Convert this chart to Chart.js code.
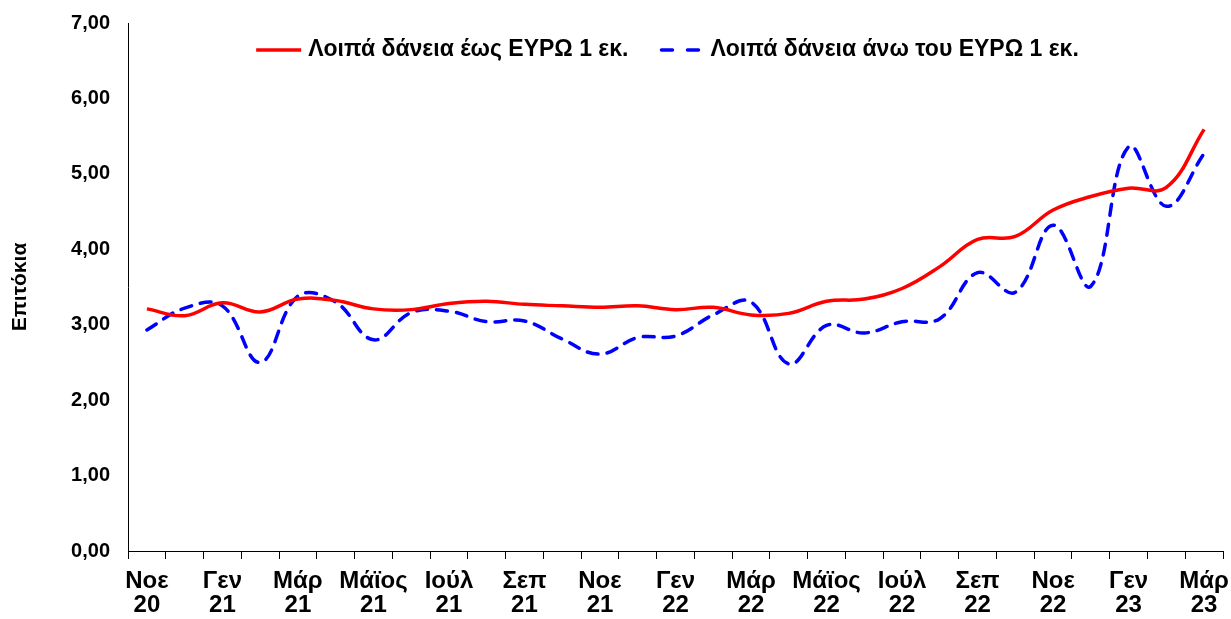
<!DOCTYPE html>
<html>
<head>
<meta charset="utf-8">
<script src="https://cdn.jsdelivr.net/npm/chart.js@4/dist/chart.umd.min.js"></script>
<style>
html,body{margin:0;padding:0;background:#fff;}
#wrap{position:relative;width:1231px;height:619px;}
</style>
</head>
<body>
<div id="wrap"><canvas id="c"></canvas></div>
<script>
const months = ['Νοε 20','Δεκ 20','Γεν 21','Φεβ 21','Μάρ 21','Απρ 21','Μάϊος 21','Ιούν 21','Ιούλ 21','Αύγ 21',
  'Σεπ 21','Οκτ 21','Νοε 21','Δεκ 21','Γεν 22','Φεβ 22','Μάρ 22','Απρ 22','Μάϊος 22','Ιούν 22',
  'Ιούλ 22','Αύγ 22','Σεπ 22','Οκτ 22','Νοε 22','Δεκ 22','Γεν 23','Φεβ 23','Μάρ 23'];
const upTo1m = [3.21,3.12,3.29,3.17,3.34,3.32,3.21,3.20,3.28,3.31,
  3.27,3.25,3.23,3.25,3.20,3.23,3.13,3.15,3.31,3.34,
  3.48,3.77,4.13,4.17,4.52,4.70,4.81,4.82,5.59];
const over1m = [2.93,3.22,3.25,2.50,3.38,3.30,2.80,3.16,3.18,3.04,
  3.05,2.81,2.61,2.83,2.85,3.13,3.30,2.48,2.99,2.89,
  3.04,3.08,3.69,3.43,4.32,3.51,5.36,4.57,5.27];
const seriesNames = ['Λοιπά δάνεια έως ΕΥΡΩ 1 εκ.','Λοιπά δάνεια άνω του ΕΥΡΩ 1 εκ.'];
const yTitle = 'Επιτόκια';

const FONT = '"Liberation Sans", Arial, sans-serif';

const topLegend = {
  id: 'topLegend',
  afterDraw(chart) {
    const ctx = chart.ctx;
    const ca = chart.chartArea;
    const sample = 45, gapText = 7, gapItems = 30;
    ctx.save();
    ctx.font = 'bold 23px ' + FONT;
    const items = chart.data.datasets.map(ds => ({ds, w: ctx.measureText(ds.label).width}));
    const total = items.reduce((s, it) => s + sample + gapText + it.w, 0) + gapItems * (items.length - 1);
    let x = (ca.left + ca.right) / 2 - 8 - total / 2;
    const y = ca.top + 27;
    items.forEach(it => {
      ctx.beginPath();
      ctx.strokeStyle = it.ds.borderColor;
      ctx.lineWidth = 3.5;
      ctx.lineCap = it.ds.borderDash ? 'round' : 'butt';
      ctx.setLineDash(it.ds.borderDash ? [11, 15] : []);
      ctx.moveTo(x + (it.ds.borderDash ? 3 : 0), y);
      ctx.lineTo(x + sample, y);
      ctx.stroke();
      ctx.setLineDash([]);
      ctx.fillStyle = '#000';
      ctx.textBaseline = 'middle';
      ctx.textAlign = 'left';
      ctx.fillText(it.ds.label, x + sample + gapText, y);
      x += sample + gapText + it.w + gapItems;
    });
    ctx.restore();
  }
};

new Chart(document.getElementById('c'), {
  type: 'line',
  data: {
    labels: months,
    datasets: [
      {label: seriesNames[0], data: upTo1m, borderColor: '#ff0000', backgroundColor: '#ff0000',
       borderWidth: 3.5, pointRadius: 0, tension: 0.4, fill: false},
      {label: seriesNames[1], data: over1m, borderColor: '#0000ff', backgroundColor: '#0000ff',
       borderWidth: 3.5, borderDash: [11, 9], borderCapStyle: 'round', pointRadius: 0, tension: 0.4, fill: false}
    ]
  },
  options: {
    responsive: true,
    maintainAspectRatio: false,
    animation: false,
    layout: {padding: {left: 8, right: 8, top: 23, bottom: 0}},
    plugins: {
      tooltip: {enabled: false},
      legend: {display: false}
    },
    scales: {
      x: {
        offset: true,
        grid: {display: true, drawOnChartArea: false, offset: true, color: '#000', tickLength: 8, tickColor: '#000'},
        border: {display: true, color: '#000', width: 1},
        ticks: {
          autoSkip: false, maxRotation: 0, minRotation: 0, padding: 10, color: '#000',
          font: {family: FONT, size: 24, weight: 'bold', lineHeight: 1.0},
          callback(v, i) { return i % 2 === 0 ? months[i].split(' ') : ''; }
        },
        afterFit(scale) { scale.height = 68; scale.paddingLeft = 0; scale.paddingRight = 0; }
      },
      y: {
        min: 0, max: 7,
        grid: {display: false, drawTicks: false},
        border: {display: true, color: '#000', width: 1},
        ticks: {
          stepSize: 1, padding: 18, color: '#000',
          font: {family: FONT, size: 20, weight: 'bold'},
          callback(v) { return v.toFixed(2).replace('.', ','); }
        },
        title: {display: true, text: yTitle, color: '#000', padding: 0,
          font: {family: FONT, size: 21, weight: 'bold'}},
        afterFit(scale) { scale.width = 120; scale.paddingTop = 0; scale.paddingBottom = 0; }
      }
    }
  },
  plugins: [topLegend]
});
</script>
</body>
</html>
